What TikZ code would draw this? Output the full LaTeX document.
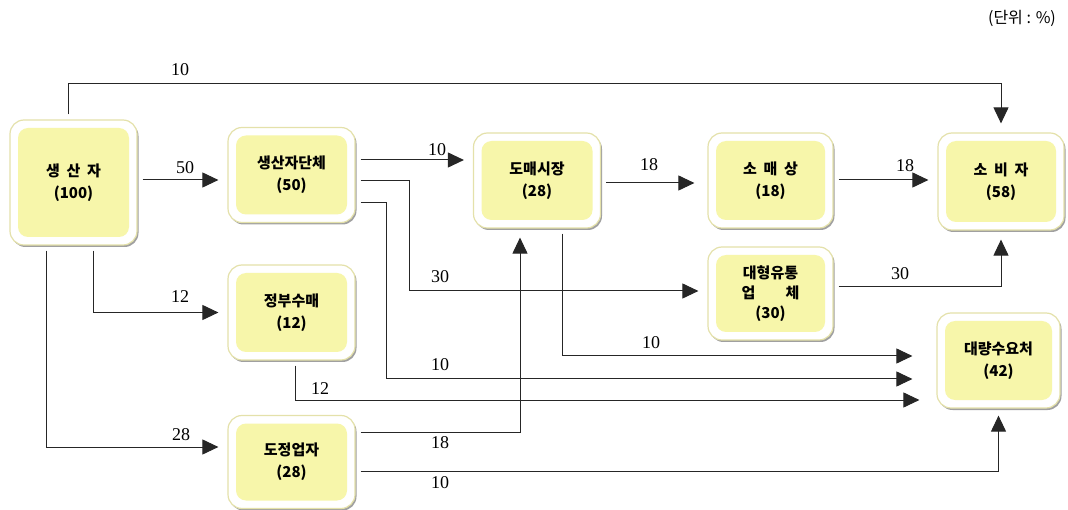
\documentclass[tikz,border=0pt]{standalone}
\usepackage{fontspec}
\newfontfamily\kr{Noto Sans CJK KR}
\newfontfamily\numfont{Liberation Serif}
\usetikzlibrary{arrows.meta,shadows}
\definecolor{stagefill}{RGB}{247,246,170}
\definecolor{rimline}{RGB}{228,225,170}
\newcommand{\krsp}{\hspace{0.45em}}
\tikzset{
  stage/.style={draw=rimline, line width=1.2pt, fill=white, rounded corners=14pt,
    minimum width=127pt, minimum height=95pt, align=center, inner sep=0pt,
    font=\kr\bfseries\fontsize{15}{22}\selectfont,
    drop shadow={shadow xshift=1.5pt, shadow yshift=-2pt, fill=black!50, opacity=0.75},
    path picture={\fill[stagefill, rounded corners=10pt]
      ([shift={(8pt,8pt)}]path picture bounding box.south west) rectangle
      ([shift={(-8pt,-8pt)}]path picture bounding box.north east);}},
  flow/.style={draw=black!85, line width=1pt, -{Triangle[length=16pt,width=15pt]},
    shorten <=5pt, shorten >=9pt},
  qty/.style={font=\numfont\fontsize{18}{18}\selectfont, inner sep=0pt},
}
\begin{document}
\begin{tikzpicture}[x=1pt, y=-1pt]
  \useasboundingbox (0,0) rectangle (1068,510);

  \node[stage, minimum height=125pt] (prod) at (73.5,182.5) {생\krsp 산\krsp 자\\(100)};
  \node[stage] (group) at (291.5,175) {생산자단체\\(50)};
  \node[stage] (gov) at (291.5,312.5) {정부수매\\(12)};
  \node[stage, minimum height=93pt] (mill) at (291.5,462) {도정업자\\(28)};
  \node[stage] (whole) at (537,180.5) {도매시장\\(28)};
  \node[stage, minimum width=125pt] (retail) at (770.5,180.5) {소\krsp 매\krsp 상\\(18)};
  \node[stage, minimum width=125pt, minimum height=93pt] (large) at (770.5,293.5)
    {대형유통\\[-2pt]업\hspace{2em}체\\[-2pt](30)};
  \node[stage, minimum width=126pt, minimum height=97pt] (cons) at (1001,181.5) {소\krsp 비\krsp 자\\(58)};
  \node[stage, minimum width=123pt] (bulk) at (998.5,360.5) {대량수요처\\(42)};

  \node[font=\kr\fontsize{16}{16}\selectfont, inner sep=0pt] (unit) at (1022,18) {(단위 : \%)};

  \draw[flow] ([xshift=-5.5pt]prod.north) -- ++(0,-36) -| (cons.north);
  \draw[flow] (prod.east |- 0,180) -- (group.west |- 0,180);
  \draw[flow] ([xshift=19.5pt]prod.south) |- (gov.west);
  \draw[flow] ([xshift=-27.5pt]prod.south) |- (mill.west |- 0,447);
  \draw[flow] (group.east |- 0,160) -- (whole.west |- 0,160);
  \draw[flow] (group.east |- 0,181) -- ++(54,0) |- (large.west |- 0,291);
  \draw[flow, shorten >=24pt] (group.east |- 0,203) -- ++(31,0) |- (bulk.west |- 0,379);
  \draw[flow, shorten >=17pt] ([xshift=3.5pt]gov.south) |- (bulk.west |- 0,400);
  \draw[flow] (mill.east |- 0,432) -| ([xshift=-17pt]whole.south);
  \draw[flow, shorten >=7pt] (mill.east |- 0,471) -| (bulk.south);
  \draw[flow, shorten >=24pt] ([xshift=25pt]whole.south) |- (bulk.west |- 0,356);
  \draw[flow, shorten >=13pt] (whole.east |- 0,183) -- (retail.west |- 0,183);
  \draw[flow] (retail.east |- 0,180) -- (cons.west |- 0,180);
  \draw[flow] (large.east |- 0,287) -| (cons.south);

  \node[qty] (q1) at (180,70) {10};
  \node[qty] (q2) at (185,168) {50};
  \node[qty] (q3) at (180,297) {12};
  \node[qty] (q4) at (181,435) {28};
  \node[qty] (q5) at (437,150) {10};
  \node[qty] (q6) at (440,277) {30};
  \node[qty] (q7) at (440,365) {10};
  \node[qty] (q8) at (320,389) {12};
  \node[qty] (q9) at (440,443) {18};
  \node[qty] (q10) at (440,483) {10};
  \node[qty] (q11) at (651,343) {10};
  \node[qty] (q12) at (649,165) {18};
  \node[qty] (q13) at (905,166) {18};
  \node[qty] (q14) at (900,274) {30};
\end{tikzpicture}
\end{document}
